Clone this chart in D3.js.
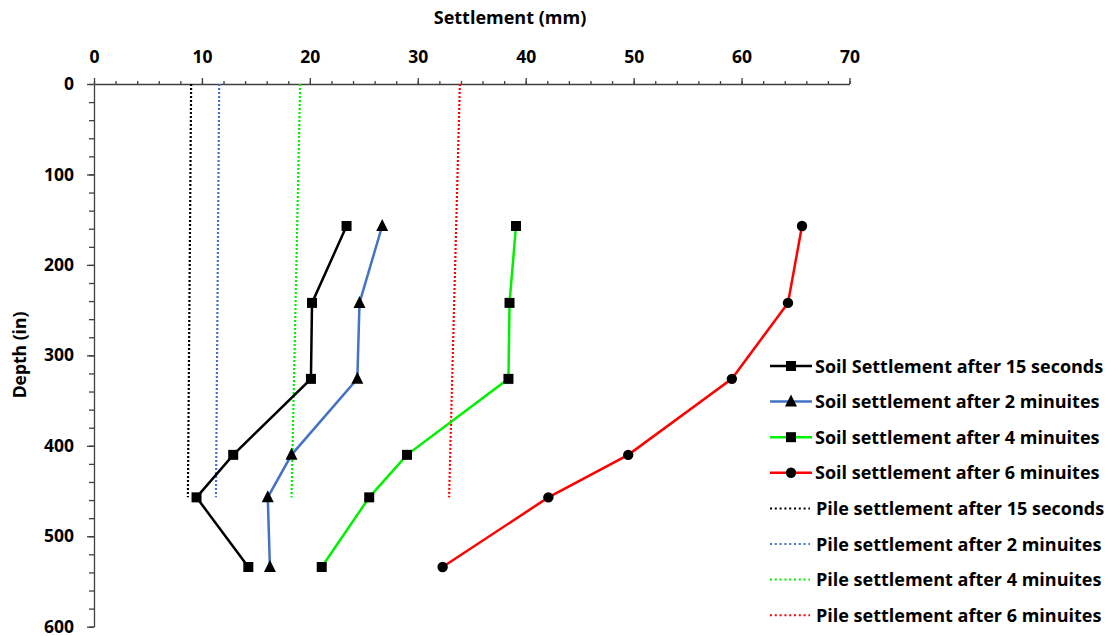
<!DOCTYPE html>
<html>
<head>
<meta charset="utf-8">
<script src="https://cdn.jsdelivr.net/npm/d3@7"></script>
<style>
	body { margin: 0; background: #fff; }
	text { font-family: "Open Sans", sans-serif; font-weight: bold; fill: #000; }
</style>
</head>
<body>
<div id="chart"></div>
<script>
// depths (in) where soil settlement was measured
var depths = [157, 242, 326, 410, 457, 534];
var soil15s = [23.4, 20.2, 20.1, 12.9, 9.5, 14.3];
var soil2m = [26.7, 24.6, 24.4, 18.3, 16.1, 16.3];
var soil4m = [39.1, 38.5, 38.4, 29.0, 25.5, 21.1];
var soil6m = [65.6, 64.3, 59.1, 49.5, 42.1, 32.3];

var pileDepths = [0, 457];
var pile15s = [9.0, 8.7];
var pile2m = [11.6, 11.3];
var pile4m = [19.1, 18.3];
var pile6m = [33.9, 32.9];

var xTicks = [0, 10, 20, 30, 40, 50, 60, 70];
var yTicks = [0, 100, 200, 300, 400, 500, 600];

var soilNames = ["Soil Settlement after 15 seconds", "Soil settlement after 2 minuites",
	"Soil settlement after 4 minuites", "Soil settlement after 6 minuites"];
var pileNames = ["Pile settlement after 15 seconds", "Pile settlement after 2 minuites",
	"Pile settlement after 4 minuites", "Pile settlement after 6 minuites"];

var soilSeries = [
	{ name: soilNames[0], values: soil15s, color: "#000000", marker: "square" },
	{ name: soilNames[1], values: soil2m, color: "#4472C4", marker: "triangle" },
	{ name: soilNames[2], values: soil4m, color: "#00F000", marker: "square" },
	{ name: soilNames[3], values: soil6m, color: "#FF0000", marker: "circle" }
];
var pileSeries = [
	{ name: pileNames[0], values: pile15s, color: "#000000" },
	{ name: pileNames[1], values: pile2m, color: "#4472C4" },
	{ name: pileNames[2], values: pile4m, color: "#00F000" },
	{ name: pileNames[3], values: pile6m, color: "#FF0000" }
];

var width = 1109, height = 636;
var svg = d3.select("#chart").append("svg")
	.attr("width", width)
	.attr("height", height);

var x = d3.scaleLinear().domain([0, 70]).range([94, 849.5]);
var y = d3.scaleLinear().domain([0, 600]).range([84, 626.7]);

var axisColor = "#404040";

// minor ticks first, then majors with labels
var xMinor = svg.append("g")
	.attr("transform", "translate(0," + y(0) + ")")
	.call(d3.axisTop(x).tickValues(d3.range(0, 71, 2)).tickSize(3).tickFormat(""));
var xMajor = svg.append("g")
	.attr("transform", "translate(0," + y(0) + ")")
	.call(d3.axisTop(x).tickValues(xTicks).tickSize(6).tickPadding(15).tickSizeOuter(0));

var yMinor = svg.append("g")
	.attr("transform", "translate(" + x(0) + ",0)")
	.call(d3.axisLeft(y).tickValues(d3.range(0, 601, 20)).tickSize(5).tickFormat(""));
var yMajor = svg.append("g")
	.attr("transform", "translate(" + x(0) + ",0)")
	.call(d3.axisLeft(y).tickValues(yTicks).tickSize(7).tickPadding(13).tickSizeOuter(0));

[xMinor, xMajor, yMinor, yMajor].forEach(function(g)
{
	g.selectAll("path, line").attr("stroke", axisColor).attr("stroke-width", 1.3);
	g.selectAll("text").attr("font-size", "17.5px").attr("fill", "#000");
});
xMinor.select("path").remove();
yMinor.select("path").remove();

svg.append("text")
	.text("Settlement (mm)")
	.attr("x", 510)
	.attr("y", 24)
	.attr("text-anchor", "middle")
	.attr("font-size", "18px");

svg.append("text")
	.text("Depth (in)")
	.attr("transform", "translate(26,355) rotate(-90)")
	.attr("text-anchor", "middle")
	.attr("font-size", "17.5px");

var line = d3.line()
	.x(function(d) { return x(d[0]); })
	.y(function(d) { return y(d[1]); });

// pile settlement, dotted
pileSeries.forEach(function(s)
{
	svg.append("path")
		.datum(s.values.map(function(v, i) { return [v, pileDepths[i]]; }))
		.attr("d", line)
		.attr("fill", "none")
		.attr("stroke", s.color)
		.attr("stroke-width", 2.2)
		.attr("stroke-dasharray", "2,2");
});

function drawMarker(g, type, cx, cy)
{
	if (type == "square")
	{
		g.append("rect")
			.attr("x", cx - 5).attr("y", cy - 5)
			.attr("width", 10).attr("height", 10)
			.attr("fill", "#000");
	}
	else if (type == "triangle")
	{
		g.append("path")
			.attr("d", "M" + cx + "," + (cy - 7) + "L" + (cx + 6) + "," + (cy + 5) + "L" + (cx - 6) + "," + (cy + 5) + "Z")
			.attr("fill", "#000");
	}
	else
	{
		g.append("circle")
			.attr("cx", cx).attr("cy", cy).attr("r", 5.2)
			.attr("fill", "#000");
	}
}

// soil settlement, solid with markers
soilSeries.forEach(function(s)
{
	var pts = s.values.map(function(v, i) { return [v, depths[i]]; });
	var g = svg.append("g");
	g.append("path")
		.datum(pts)
		.attr("d", line)
		.attr("fill", "none")
		.attr("stroke", s.color)
		.attr("stroke-width", 2.5);
	pts.forEach(function(p)
	{
		drawMarker(g, s.marker, x(p[0]), y(p[1]));
	});
});

// legend
var legend = svg.append("g").attr("transform", "translate(770,366)");
var rowH = 35.6;

soilSeries.forEach(function(s, i)
{
	var row = legend.append("g").attr("transform", "translate(0," + (i * rowH) + ")");
	row.append("line")
		.attr("x1", 0).attr("x2", 42)
		.attr("stroke", s.color)
		.attr("stroke-width", 2.5);
	drawMarker(row, s.marker, 21, 0);
	row.append("text")
		.text(s.name)
		.attr("x", 45)
		.attr("y", 6.5)
		.attr("font-size", "18px");
});

pileSeries.forEach(function(s, i)
{
	var row = legend.append("g").attr("transform", "translate(0," + ((i + 4) * rowH) + ")");
	row.append("line")
		.attr("x1", 0).attr("x2", 40)
		.attr("stroke", s.color)
		.attr("stroke-width", 2)
		.attr("stroke-dasharray", "2,2.8");
	row.append("text")
		.text(s.name)
		.attr("x", 46)
		.attr("y", 6.5)
		.attr("font-size", "18px");
});
</script>
</body>
</html>
